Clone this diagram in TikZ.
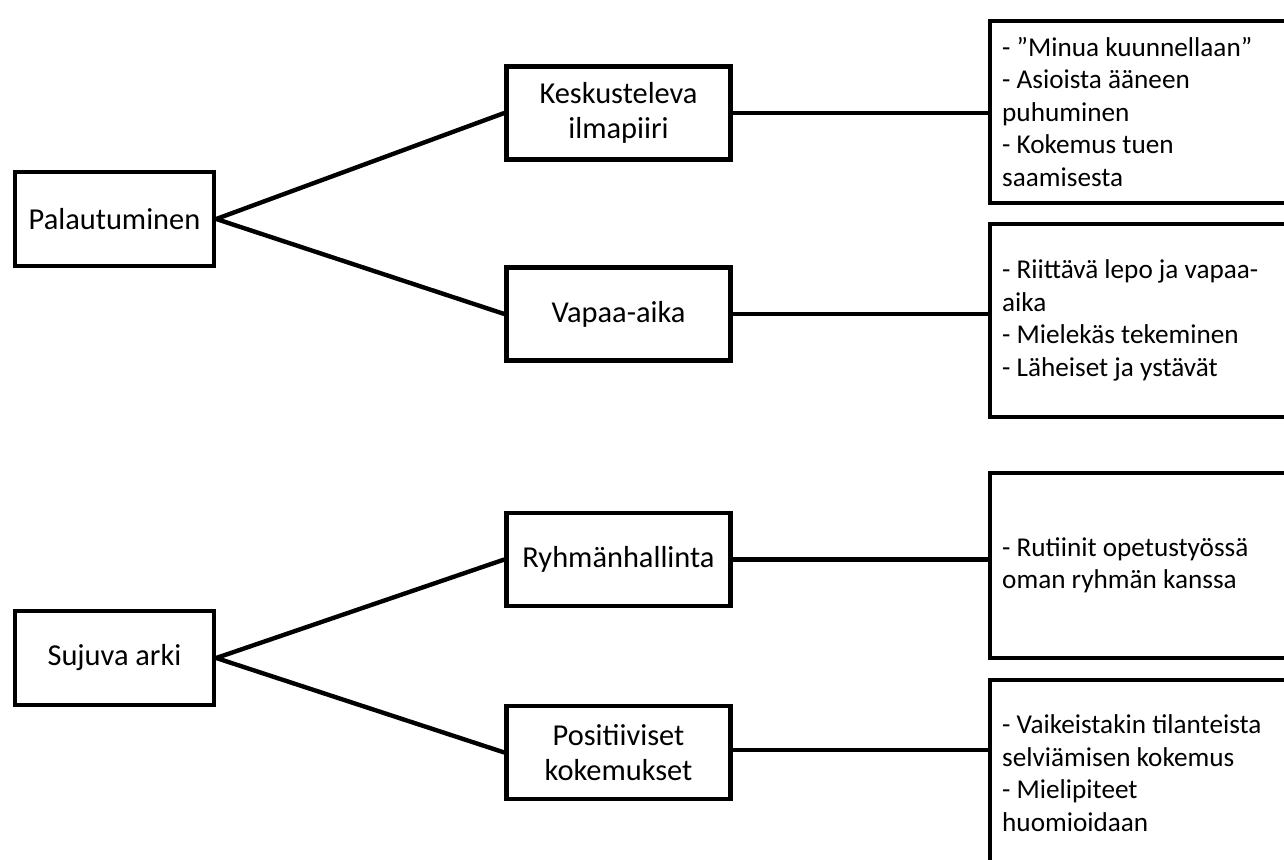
\documentclass[tikz,border=0pt]{standalone}
\usepackage{fontspec}
\setmainfont{Carlito}
\begin{document}
\begin{tikzpicture}[x=0.5pt,y=-0.5pt,
    box/.style={draw, line width=2.2pt, align=center, inner sep=0pt,
      font=\fontsize{15.2}{17.5}\selectfont},
    topic/.style={box, minimum width=99.5pt, minimum height=47pt},
    theme/.style={box, minimum width=112pt, minimum height=46.5pt},
    notes/.style={box, anchor=west, align=flush left, text width=170pt, inner xsep=6pt,
      font=\fontsize{13.6}{16.25}\selectfont},
    link/.style={line width=2.2pt}]
\useasboundingbox (0,0) rectangle (1284,860);
\clip (0,0) rectangle (1284,860);
% main topics
\node[topic](P) at (114.5,219) {Palautuminen};
\node[topic](S) at (114.5,658) {Sujuva arki};
% themes
\node[theme](K) at (618.5,113) {Keskusteleva\\ilmapiiri};
\node[theme](V) at (618.5,314) {Vapaa-aika};
\node[theme](R) at (618.5,559.5) {Ryhmänhallinta};
\node[theme](Po) at (618.5,752.5) {Positiiviset\\kokemukset};
% notes
\node[notes, minimum height=91pt](Kn) at (988,112) {- ”Minua kuunnellaan”\\- Asioista ääneen\\puhuminen\\- Kokemus tuen\\saamisesta};
\node[notes, minimum height=96.5pt](Vn) at (988,320.5) {- Riittävä lepo ja vapaa-\\aika\\- Mielekäs tekeminen\\- Läheiset ja ystävät};
\node[notes, minimum height=92.5pt](Rn) at (988,565.5) {- Rutiinit opetustyössä\\oman ryhmän kanssa};
\node[notes, minimum height=93pt](Pon) at (988,773) {- Vaikeistakin tilanteista\\selviämisen kokemus\\- Mielipiteet\\huomioidaan};
% connectors
\draw[link] (P.east) -- (K.west);
\draw[link] (P.east) -- (V.west);
\draw[link] (S.east) -- (R.west);
\draw[link] (S.east) -- (Po.west);
\draw[link] (K.east) -- (K.east -| Kn.west);
\draw[link] (V.east) -- (V.east -| Vn.west);
\draw[link] (R.east) -- (R.east -| Rn.west);
\draw[link] ([yshift=1.2pt]Po.east) -- ([yshift=1.2pt]Po.east -| Pon.west);
\end{tikzpicture}
\end{document}
